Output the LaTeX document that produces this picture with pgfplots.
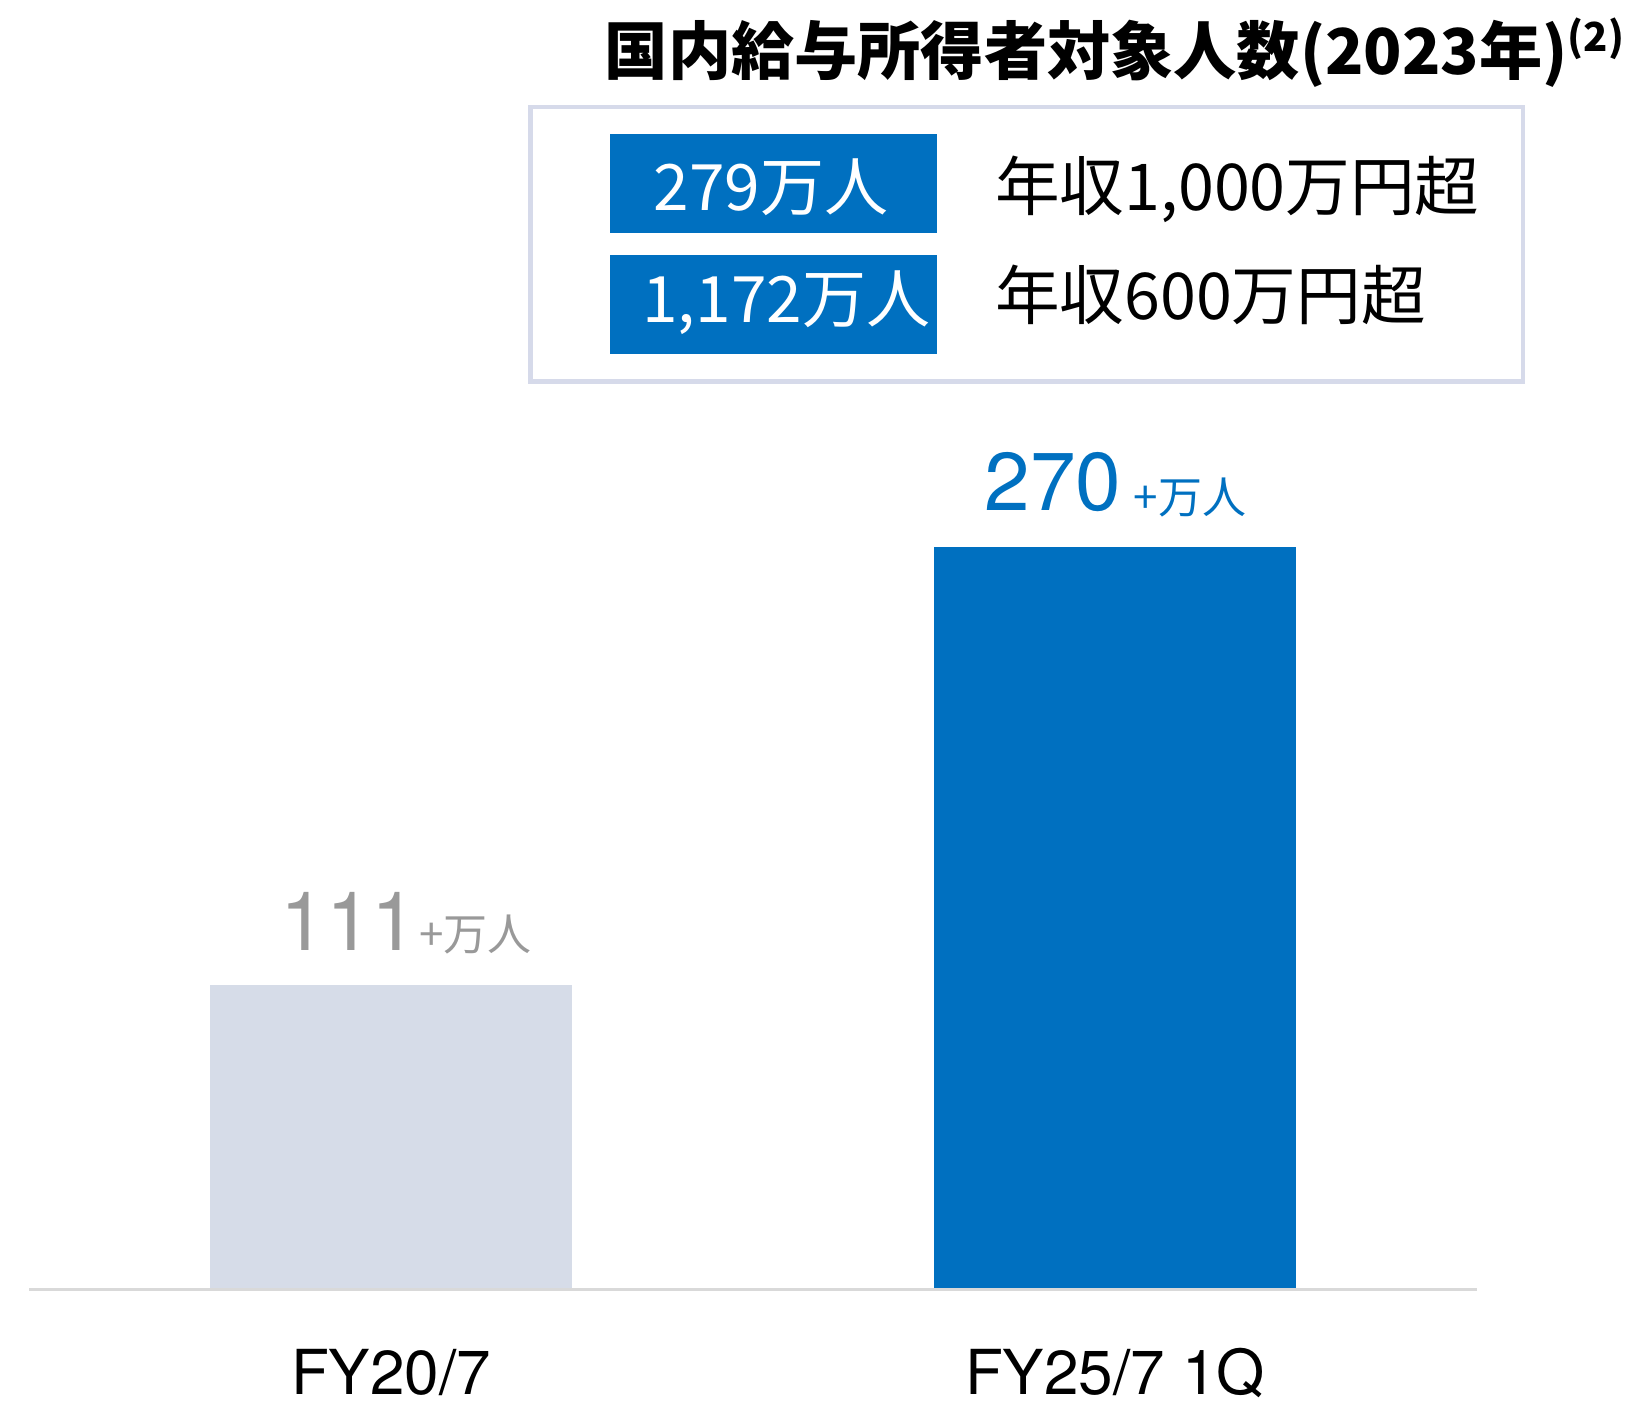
\documentclass[border=0pt]{standalone}
\usepackage{fontspec}
\usepackage{pgfplots}
\pgfplotsset{compat=1.18}
\setmainfont{TeX Gyre Heros}
\newfontfamily\cjk{Noto Sans CJK JP}
\definecolor{barblue}{RGB}{0,112,192}
\definecolor{bargray}{RGB}{214,220,232}
\definecolor{txtgray}{RGB}{153,153,153}
\definecolor{basegray}{RGB}{217,217,217}
\definecolor{boxborder}{RGB}{214,218,234}
\begin{document}
\begin{tikzpicture}
\useasboundingbox (0,0) rectangle (407.25pt,351pt);
% title
\node[anchor=base west, inner sep=0] at (151pt,332.25pt)
  {\cjk\bfseries\fontsize{15.8}{19}\selectfont 国内給与所得者対象人数(2023年)\raisebox{5.8pt}{\fontsize{10}{11}\selectfont (2)}};
% legend box
\draw[boxborder, line width=1.1pt] (132.6pt,324.25pt) rectangle (380.8pt,255.6pt);
\fill[barblue] (152.6pt,317.6pt) rectangle (234.2pt,292.75pt);
\fill[barblue] (152.6pt,287.25pt) rectangle (234.2pt,262.5pt);
\node[anchor=base west, inner sep=0, text=white] at (163.2pt,298.25pt)
  {\cjk\fontsize{16}{19}\selectfont 279万人};
\node[anchor=base west, inner sep=0, text=white] at (160.4pt,270.25pt)
  {\cjk\fontsize{16}{19}\selectfont 1,172万人};
\node[anchor=base west, inner sep=0] at (248.6pt,298.25pt)
  {\cjk\fontsize{16.15}{19}\selectfont 年収1,000万円超};
\node[anchor=base west, inner sep=0] at (248.6pt,271pt)
  {\cjk\fontsize{16.15}{19}\selectfont 年収600万円超};
\begin{axis}[
  at={(7.25pt,28.5pt)}, anchor=south west,
  scale only axis, width=362pt, height=206.4pt,
  xmin=-0.5, xmax=1.5, ymin=0, ymax=300,
  clip=false,
  axis line style={draw=none},
  ytick=\empty,
  xtick={0,1},
  xticklabels={FY20/7,FY25/7 1Q},
  major tick length=0pt,
  tick style={draw=none},
  xticklabel style={font=\fontsize{15.5}{18}\selectfont, anchor=base, yshift=-26.25pt, inner sep=0pt},
]
\addplot[ybar, bar width=0.5, bar shift=0pt, fill=bargray, draw=none] coordinates {(0,111)};
\addplot[ybar, bar width=0.5, bar shift=0pt, fill=barblue, draw=none] coordinates {(1,270)};
\draw[basegray, line width=0.75pt] (axis cs:-0.5,0) -- (axis cs:1.5,0);
\node[anchor=base west, inner sep=0, text=txtgray, xshift=-27.75pt, yshift=8.4pt] at (axis cs:0,111)
  {\fontsize{20.5}{24}\selectfont 111};
\node[anchor=base west, inner sep=0, text=txtgray, xshift=6.8pt, yshift=8.4pt] at (axis cs:0,111)
  {\cjk\fontsize{11}{13}\selectfont +万人};
\node[anchor=base west, inner sep=0, text=barblue, xshift=-32.75pt, yshift=9pt] at (axis cs:1,270)
  {\fontsize{20.5}{24}\selectfont 270};
\node[anchor=base west, inner sep=0, text=barblue, xshift=4.5pt, yshift=8.4pt] at (axis cs:1,270)
  {\cjk\fontsize{11}{13}\selectfont +万人};
\end{axis}
\end{tikzpicture}
\end{document}
